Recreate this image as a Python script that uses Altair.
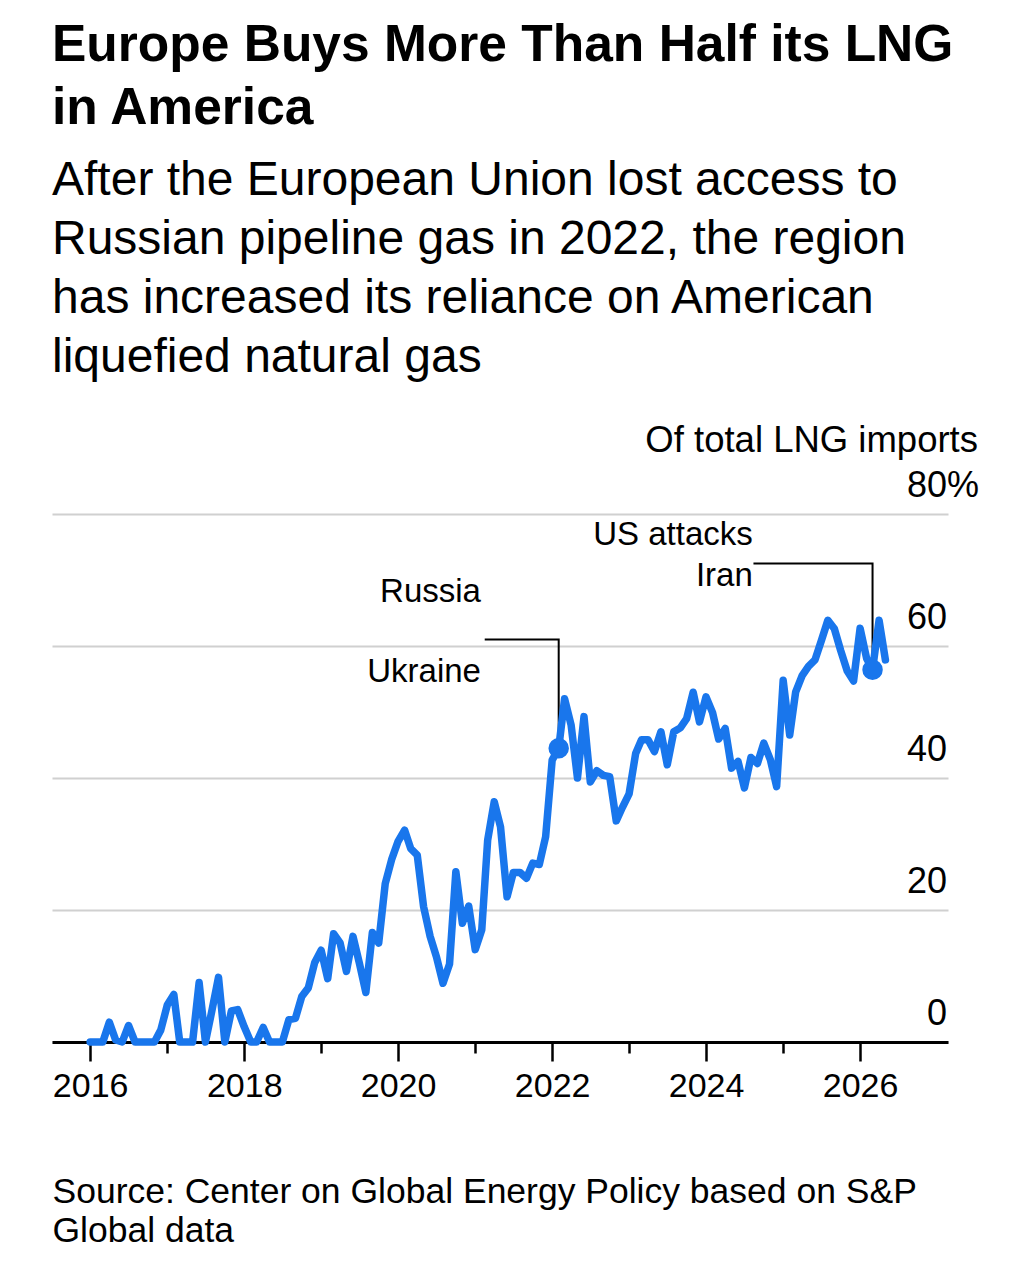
import altair as alt
import pandas as pd

# Share of Europe's LNG imports supplied by the US, monthly from Jan 2016 (%)
start_month = "2016-01-01"
us_share = [
    0, 0, 0, 3.0, 0.3, 0, 2.5, 0, 0, 0, 0, 1.8,
    5.6, 7.2, 0, 0, 0, 9.0, 0, 4.8, 9.8, 0, 4.7, 4.9,
    2.3, 0, 0, 2.2, 0, 0, 0, 3.4, 3.6, 6.9, 8.2, 12.0,
    13.9, 9.6, 16.4, 15.0, 10.7, 16.0, 12.0, 7.5, 16.6, 15.0, 24.0, 27.6,
    30.4, 32.1, 29.3, 28.3, 20.5, 16.0, 12.9, 8.9, 11.8, 25.8, 18.0, 20.6,
    14.0, 17.0, 30.6, 36.4, 32.6, 22.0, 25.7, 25.7, 24.8, 27.1, 26.9, 31.1,
    42.7, 44.5, 52.0, 48.0, 40.0, 49.3, 39.4, 41.1, 40.4, 40.2, 33.5, 35.6,
    37.6, 43.7, 45.8, 45.8, 44.0, 47.0, 42.0, 47.0, 47.6, 49.0, 53.0, 48.5,
    52.3, 49.9, 45.9, 47.5, 41.5, 42.5, 38.5, 43.1, 42.2, 45.3, 42.8, 38.7,
    54.8, 46.5, 53.0, 55.5, 56.9, 57.9, 60.8, 63.9, 62.6, 59.3, 56.2, 54.7,
    62.7, 58.1, 56.4, 63.9, 57.9,
]

# Highlighted events
event_dates = ["2022-02-01", "2026-03-01"]
event_values = [44.5, 56.4]

# Annotation text (date of right edge, baseline value)
note_texts = ["Russia", "Ukraine", "US attacks", "Iran"]
note_dates = ["2021-01-28", "2021-01-28", "2024-08-10", "2024-08-10"]
note_values = [66.7, 54.6, 75.3, 69.1]

# Leader lines from the annotation to each event point
leader_group = ["ru", "ru", "ru", "ir", "ir", "ir"]
leader_order = [0, 1, 2, 0, 1, 2]
leader_dates = ["2021-02-15", "2022-02-01", "2022-02-01",
                "2024-08-13", "2026-03-01", "2026-03-01"]
leader_values = [61.0, 61.0, 44.5, 72.5, 72.5, 56.4]

# Value axis labels
y_ticks = [0, 20, 40, 60, 80]
y_tick_labels = ["0", "20", "40", "60", "80"]
y_tick_suffix = ["", "", "", "", "%"]
x_tick_years = list(range(2016, 2027))

FONT = "Liberation Sans"
BLUE = "#1976ec"
W, H = 896, 528

months = pd.date_range(start_month, periods=len(us_share), freq="MS")
series = pd.DataFrame({"month": months, "share": us_share})
events = pd.DataFrame({"month": pd.to_datetime(event_dates), "share": event_values})
notes = pd.DataFrame({"month": pd.to_datetime(note_dates), "share": note_values,
                      "text": note_texts})
leaders = pd.DataFrame({"grp": leader_group, "ord": leader_order,
                        "month": pd.to_datetime(leader_dates), "share": leader_values})
ylabels = pd.DataFrame({"v": y_ticks, "label": y_tick_labels, "suffix": y_tick_suffix})

x_scale = alt.Scale(domain=[alt.DateTime(year=2015, month=7, date=4),
                            alt.DateTime(year=2027, month=2, date=22)])
y_scale = alt.Scale(domain=[0, 80], nice=False, zero=True)

x_axis = alt.Axis(
    values=[alt.DateTime(year=y) for y in x_tick_years],
    labelExpr="year(datum.value) % 2 == 0 ? timeFormat(datum.value, '%Y') : ''",
    tickSize=alt.condition("year(datum.value) % 2 == 0", alt.value(19), alt.value(11)),
    tickColor="black", tickWidth=2.5,
    domainColor="black", domainWidth=3,
    grid=False,
    labelFont=FONT, labelFontSize=34, labelColor="black", labelPadding=8,
    labelFlush=False, labelOverlap=False,
    title=["Source: Center on Global Energy Policy based on S&P", "Global data"],
    titleFont=FONT, titleFontSize=35.5, titleFontWeight="normal", titleColor="black",
    titleAnchor="start", titleAlign="left", titlePadding=71, titleLineHeight=39,
)
y_axis = alt.Axis(values=y_ticks, grid=True, gridColor="#d0d0d0", gridWidth=2,
                  labels=False, ticks=False, domain=False, title=None)

base_x = alt.X("month:T", scale=x_scale, axis=x_axis)

grid = alt.Chart(ylabels).mark_rule(opacity=0).encode(
    x=alt.value(0),
    y=alt.Y("v:Q", scale=y_scale, axis=y_axis),
)

tick_text = alt.Chart(ylabels).mark_text(
    align="right", baseline="alphabetic", dy=-17, font=FONT, fontSize=36, color="black"
).encode(x=alt.value(W - 1), y=alt.Y("v:Q", scale=y_scale), text="label:N")

tick_suffix = alt.Chart(ylabels).mark_text(
    align="left", baseline="alphabetic", dy=-17, font=FONT, fontSize=36, color="black"
).encode(x=alt.value(W - 1), y=alt.Y("v:Q", scale=y_scale), text="suffix:N")

unit_text = alt.Chart(pd.DataFrame({"t": ["Of total LNG imports"]})).mark_text(
    align="right", baseline="alphabetic", font=FONT, fontSize=36.5, color="black"
).encode(x=alt.value(W + 30), y=alt.value(-62), text="t:N")

leader_lines = alt.Chart(leaders).mark_line(
    color="black", strokeWidth=2, strokeCap="butt", strokeJoin="miter"
).encode(
    x=base_x, y=alt.Y("share:Q", scale=y_scale),
    detail="grp:N", order="ord:Q",
)

line = alt.Chart(series).mark_line(
    color=BLUE, strokeWidth=7.5, strokeJoin="round", strokeCap="round"
).encode(x=base_x, y=alt.Y("share:Q", scale=y_scale))

dots = alt.Chart(events).mark_circle(color=BLUE, opacity=1, size=420).encode(
    x=base_x, y=alt.Y("share:Q", scale=y_scale)
)

note_marks = alt.Chart(notes).mark_text(
    align="right", baseline="alphabetic", font=FONT, fontSize=33, color="black"
).encode(x=base_x, y=alt.Y("share:Q", scale=y_scale), text="text:N")

chart = alt.layer(
    grid, tick_text, tick_suffix, unit_text, leader_lines, line, dots, note_marks
).properties(
    width=W, height=H,
    autosize=alt.AutoSizeParams(type="none"),
    padding={"left": 52, "top": 514, "right": 83, "bottom": 238},
    background="white",
    title=alt.TitleParams(
        text=["Europe Buys More Than Half its LNG", "in America"],
        subtitle=["After the European Union lost access to",
                  "Russian pipeline gas in 2022, the region",
                  "has increased its reliance on American",
                  "liquefied natural gas"],
        anchor="start", frame="group", orient="top",
        font=FONT, fontSize=51.5, fontWeight="bold", color="black", lineHeight=63,
        subtitleFont=FONT, subtitleFontSize=48, subtitleColor="black",
        subtitleLineHeight=59, subtitlePadding=23, offset=41,
    ),
).configure_view(stroke=None)

chart.save("out.html", embed_options={"renderer": "svg", "actions": False})
